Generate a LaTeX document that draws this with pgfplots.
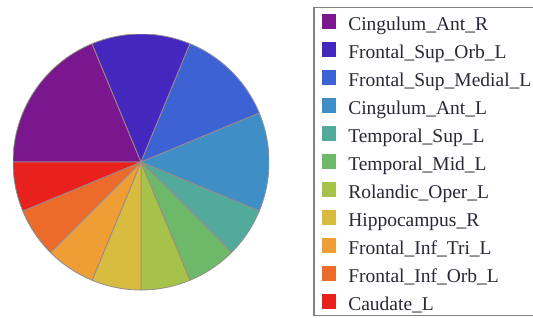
\documentclass[border=0pt]{standalone}
\usepackage{pgfplots}
\pgfplotsset{compat=1.18}
\usepackage{pgfplotstable}
\usepackage{fontspec}
\setmainfont{Liberation Serif}

\definecolor{c0}{RGB}{122,22,142}
\definecolor{c1}{RGB}{68,40,190}
\definecolor{c2}{RGB}{60,98,212}
\definecolor{c3}{RGB}{63,143,198}
\definecolor{c4}{RGB}{82,170,154}
\definecolor{c5}{RGB}{110,184,106}
\definecolor{c6}{RGB}{166,194,74}
\definecolor{c7}{RGB}{215,188,64}
\definecolor{c8}{RGB}{238,158,53}
\definecolor{c9}{RGB}{236,106,42}
\definecolor{c10}{RGB}{232,32,30}
\definecolor{slicebd}{RGB}{150,140,140}
\definecolor{legtext}{RGB}{40,40,55}
\definecolor{legbd}{RGB}{130,130,130}

% slice sizes, in legend order (clockwise from 9 o'clock)
\pgfplotstableread{
value
3
2
2
2
1
1
1
1
1
1
1
}\piedata

\newcommand\sq[1]{\addlegendimage{legend image code/.code={\fill[#1] (0pt,-6.5pt) rectangle (13pt,6.5pt);}}}

\begin{document}
\begin{tikzpicture}
\useasboundingbox (0,0) rectangle (533pt,317pt);
\begin{axis}[
  hide axis, scale only axis,
  width=256pt, height=256pt,
  xmin=-1, xmax=1, ymin=-1, ymax=1,
  at={(13pt,27pt)}, anchor=south west,
  legend cell align=left,
  legend style={
    at={(axis description cs:1.1719,1.1055)}, anchor=north west,
    draw=legbd, line width=1.5pt,
    inner xsep=8pt, inner ysep=0pt,
    row sep=0pt, column sep=0pt,
    font=\fontsize{19.5}{23}\selectfont,
    text=legtext,
    nodes={inner sep=0pt, text height=23pt, text depth=5pt},
  },
]
\pgfplotstablegetrowsof{\piedata}
\pgfmathtruncatemacro{\N}{\pgfplotsretval-1}
\def\tot{0}
\pgfplotsforeachungrouped \i in {0,...,\N}{%
  \pgfplotstablegetelem{\i}{value}\of\piedata
  \pgfmathsetmacro\tot{\tot+\pgfplotsretval}%
}
\def\cum{0}
\pgfplotsforeachungrouped \i in {0,...,\N}{%
  \pgfplotstablegetelem{\i}{value}\of\piedata
  \pgfmathsetmacro\a{180-360*\cum/\tot}%
  \pgfmathsetmacro\cum{\cum+\pgfplotsretval}%
  \pgfmathsetmacro\b{180-360*\cum/\tot}%
  \edef\temp{\noexpand\filldraw[fill=c\i, draw=slicebd, line width=0.8pt, line join=round]
    (axis cs:0,0) -- (axis cs:{cos(\a)},{sin(\a)}) arc[start angle=\a, end angle=\b, radius=128pt] -- cycle;}%
  \temp
}
\sq{c0}\addlegendentry{\hspace{12pt}Cingulum\_Ant\_R}
\sq{c1}\addlegendentry{\hspace{12pt}Frontal\_Sup\_Orb\_L}
\sq{c2}\addlegendentry{\hspace{12pt}Frontal\_Sup\_Medial\_L}
\sq{c3}\addlegendentry{\hspace{12pt}Cingulum\_Ant\_L}
\sq{c4}\addlegendentry{\hspace{12pt}Temporal\_Sup\_L}
\sq{c5}\addlegendentry{\hspace{12pt}Temporal\_Mid\_L}
\sq{c6}\addlegendentry{\hspace{12pt}Rolandic\_Oper\_L}
\sq{c7}\addlegendentry{\hspace{12pt}Hippocampus\_R}
\sq{c8}\addlegendentry{\hspace{12pt}Frontal\_Inf\_Tri\_L}
\sq{c9}\addlegendentry{\hspace{12pt}Frontal\_Inf\_Orb\_L}
\sq{c10}\addlegendentry{\hspace{12pt}Caudate\_L}
\end{axis}
\end{tikzpicture}
\end{document}
